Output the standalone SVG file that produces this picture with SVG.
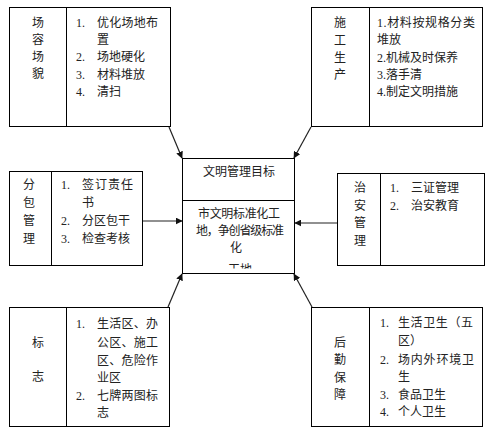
<svg xmlns="http://www.w3.org/2000/svg" width="487" height="434" viewBox="0 0 487 434">
<style>
.box{fill:#fff;stroke:#000;stroke-width:1}
.div{stroke:#000;stroke-width:1}
text{font-family:"Liberation Serif","Noto Sans CJK SC",serif;font-size:12px;fill:#222}
.c{text-anchor:middle}
.conn{stroke:#222;stroke-width:1.2;fill:none;marker-end:url(#ah)}
</style>
<defs>
<marker id="ah" viewBox="0 0 10 10" refX="9" refY="5" markerWidth="7" markerHeight="7" orient="auto" markerUnits="userSpaceOnUse">
<path d="M0,0 L10,5 L0,10 z" fill="#111"/>
</marker>
<clipPath id="cc"><rect x="183" y="201" width="111" height="67.5"/></clipPath>
</defs>
<rect width="487" height="434" fill="#fff"/>

<g id="changrong">
<rect class="box" x="9.5" y="7.5" width="161" height="119"/>
<line class="div" x1="66.5" y1="7.5" x2="66.5" y2="126.5"/>
<text class="c" x="38" y="27">场</text>
<text class="c" x="38" y="44">容</text>
<text class="c" x="38" y="61">场</text>
<text class="c" x="38" y="78">貌</text>
<text x="76" y="27">1.</text><text x="97" y="27" textLength="61">优化场地布</text>
<text x="97" y="44">置</text>
<text x="76" y="61">2.</text><text x="97" y="61">场地硬化</text>
<text x="76" y="79">3.</text><text x="97" y="79">材料堆放</text>
<text x="76" y="96">4.</text><text x="97" y="96">清扫</text>
</g>

<g id="shigong">
<rect class="box" x="311.5" y="7.5" width="171" height="119"/>
<line class="div" x1="369.5" y1="7.5" x2="369.5" y2="126.5"/>
<text class="c" x="340" y="27">施</text>
<text class="c" x="340" y="45">工</text>
<text class="c" x="340" y="62">生</text>
<text class="c" x="340" y="79">产</text>
<text x="377" y="27" textLength="98">1.材料按规格分类</text>
<text x="377" y="44">堆放</text>
<text x="377" y="62">2.机械及时保养</text>
<text x="377" y="79">3.落手清</text>
<text x="377" y="96">4.制定文明措施</text>
</g>

<g id="center">
<rect class="box" x="182.5" y="158.5" width="112" height="115"/>
<line class="div" x1="182.5" y1="200.5" x2="294.5" y2="200.5"/>
<text class="c" x="239" y="176">文明管理目标</text>
<g clip-path="url(#cc)">
<text class="c" x="239" y="218" textLength="82">市文明标准化工</text>
<text class="c" x="240" y="235" textLength="88">地，争创省级标准</text>
<text class="c" x="236" y="252">化</text>
<text class="c" x="240" y="273.5">工地</text>
</g>
</g>

<g id="fenbao">
<rect class="box" x="9.5" y="171.5" width="133" height="94"/>
<line class="div" x1="51.5" y1="171.5" x2="51.5" y2="265.5"/>
<text class="c" x="29" y="189">分</text>
<text class="c" x="29" y="207">包</text>
<text class="c" x="29" y="225">管</text>
<text class="c" x="29" y="243">理</text>
<text x="61" y="189">1.</text><text x="82" y="189" textLength="51">签订责任</text>
<text x="82" y="207">书</text>
<text x="61" y="225">2.</text><text x="82" y="225">分区包干</text>
<text x="61" y="243">3.</text><text x="82" y="243">检查考核</text>
</g>

<g id="zhian">
<rect class="box" x="337.5" y="173.5" width="147" height="92"/>
<line class="div" x1="380.5" y1="173.5" x2="380.5" y2="265.5"/>
<text class="c" x="360" y="192">治</text>
<text class="c" x="360" y="210">安</text>
<text class="c" x="360" y="227">管</text>
<text class="c" x="360" y="245">理</text>
<text x="390" y="192">1.</text><text x="411" y="192">三证管理</text>
<text x="390" y="210">2.</text><text x="411" y="210">治安教育</text>
</g>

<g id="biaozhi">
<rect class="box" x="9.5" y="307.5" width="160" height="119"/>
<line class="div" x1="66.5" y1="307.5" x2="66.5" y2="426.5"/>
<text class="c" x="38" y="347">标</text>
<text class="c" x="38" y="381">志</text>
<text x="76" y="328">1.</text><text x="97" y="328" textLength="61">生活区、办</text>
<text x="97" y="347" textLength="61">公区、施工</text>
<text x="97" y="365" textLength="61">区、危险作</text>
<text x="97" y="382">业区</text>
<text x="76" y="400">2.</text><text x="97" y="400" textLength="61">七牌两图标</text>
<text x="97" y="417">志</text>
</g>

<g id="houqin">
<rect class="box" x="311.5" y="307.5" width="171" height="119"/>
<line class="div" x1="369.5" y1="307.5" x2="369.5" y2="426.5"/>
<text class="c" x="340" y="347">后</text>
<text class="c" x="340" y="364">勤</text>
<text class="c" x="340" y="382">保</text>
<text class="c" x="340" y="399">障</text>
<text x="380" y="327">1.</text><text x="398" y="327" textLength="75">生活卫生（五</text>
<text x="398" y="345">区）</text>
<text x="380" y="364">2.</text><text x="398" y="364" textLength="76">场内外环境卫</text>
<text x="398" y="381">生</text>
<text x="380" y="399">3.</text><text x="398" y="399">食品卫生</text>
<text x="380" y="416">4.</text><text x="398" y="416">个人卫生</text>
</g>

<g id="connectors">
<line class="conn" x1="169" y1="127" x2="182" y2="158"/>
<line class="conn" x1="311" y1="127" x2="294" y2="158"/>
<line class="conn" x1="143" y1="221" x2="182" y2="221"/>
<line class="conn" x1="337" y1="223" x2="295" y2="223"/>
<line class="conn" x1="168" y1="307" x2="182" y2="274"/>
<line class="conn" x1="312" y1="307" x2="294" y2="274"/>
</g>
</svg>
